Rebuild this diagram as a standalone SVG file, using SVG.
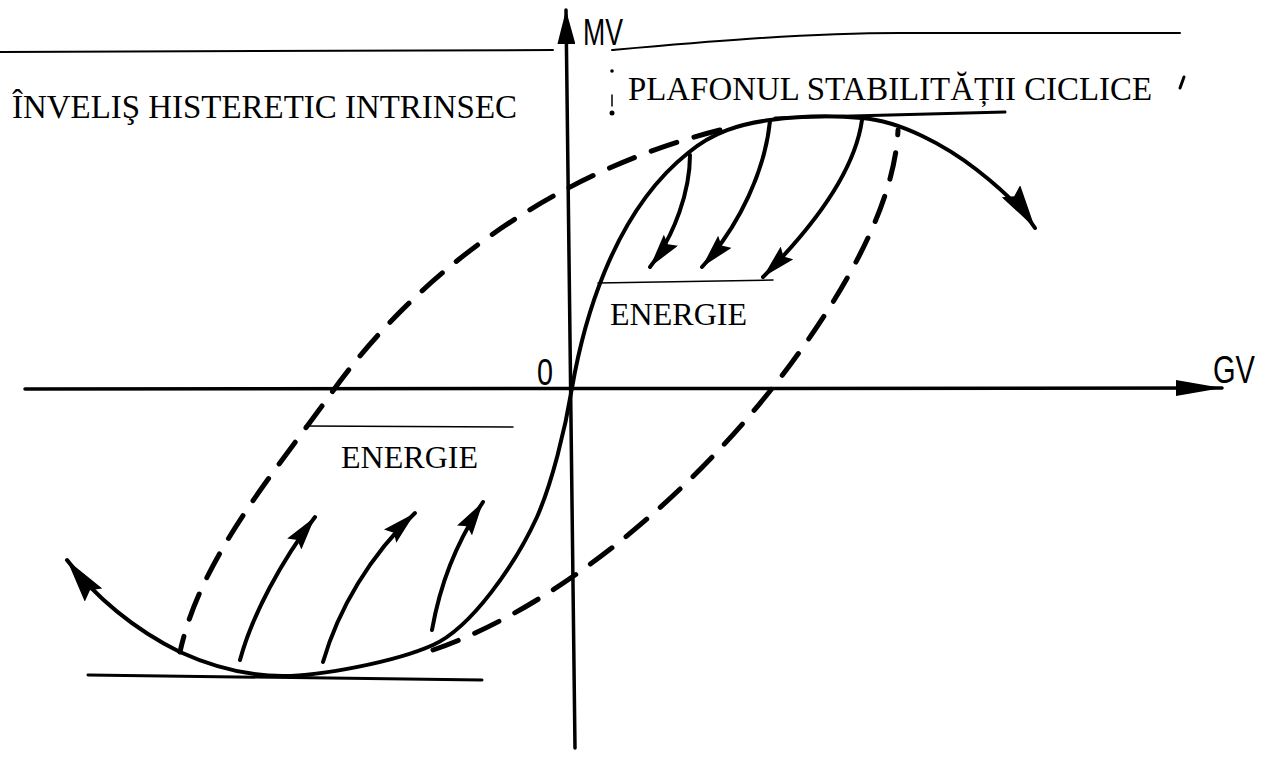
<svg xmlns="http://www.w3.org/2000/svg" width="1271" height="757" viewBox="0 0 1271 757">
<defs>
<style>
.ln{fill:none;stroke:#000;stroke-linecap:round;stroke-linejoin:round}
.thick{stroke-width:4}
.axis{stroke-width:3.5}
.thin{stroke-width:2}
.hair{stroke-width:1.5}
.dash{stroke-width:5;stroke-dasharray:27 18}
.serif{font-family:"Liberation Serif","Times New Roman",serif;fill:#000}
.sans{font-family:"Liberation Sans",Arial,sans-serif;fill:#000}
.mark{fill:#000}
</style>
<marker id="ahS" markerUnits="userSpaceOnUse" markerWidth="36" markerHeight="18" refX="34" refY="9" orient="auto"><path class="mark" d="M0,0 L34,9 L0,18 L5,9 Z"/></marker>
<marker id="ahL" markerUnits="userSpaceOnUse" markerWidth="46" markerHeight="22" refX="44" refY="11" orient="auto-start-reverse"><path class="mark" d="M0,0 L44,11 L0,22 L6,11 Z"/></marker>
<marker id="ahAV" markerUnits="userSpaceOnUse" markerWidth="36" markerHeight="18" refX="34" refY="9" orient="auto"><path class="mark" d="M0,0 L34,9 L0,18 Z"/></marker>
<marker id="ahAH" markerUnits="userSpaceOnUse" markerWidth="48" markerHeight="18" refX="46" refY="9" orient="auto"><path class="mark" d="M0,1 L46,9 L0,17 Z"/></marker>
</defs>
<rect width="1271" height="757" fill="#fff"/>

<g id="axes">
<line class="ln axis" x1="575" y1="748" x2="566" y2="10" marker-end="url(#ahAV)"/>
<line class="ln axis" x1="25" y1="389" x2="1222" y2="388" marker-end="url(#ahAH)"/>
</g>

<g id="guide-lines">
<path class="ln thin" d="M0,52 L553,50"/>
<path class="ln thin" d="M612,50 C690,43 800,33 900,33 L1180,33"/>
<path class="ln" stroke-width="3" d="M775,118 L1005,112"/>
<path class="ln" stroke-width="3" d="M88,675 L482,680"/>
<path class="ln hair" d="M598,283 L773,280"/>
<path class="ln hair" d="M305,426 L513,427"/>
</g>

<g id="connectors">
<path id="skeleton" class="ln thick" marker-start="url(#ahL)" marker-end="url(#ahL)" d="M67,560 C95,597 135,630 180,652 C215,668 250,676 283,676 C320,676 395,662 433,645 C471,628 515,565 537,517 C552,483 565,430 572,388 C582,330 610,215 688,153 C713,132 740,124 770,120 C800,116 830,115 862,118 C900,121 945,145 977,170 C995,184 1020,205 1035,228"/>
<path id="envelope-upper" class="ln dash" d="M720,130 C560,170 420,268 330,395 C270,478 200,560 180,652"/>
<path id="envelope-lower" class="ln dash" d="M433,650 C550,610 690,500 790,365 C850,284 895,200 898,130"/>
<path class="ln thick" marker-end="url(#ahS)" d="M690,155 C690,190 675,235 650,267"/>
<path class="ln thick" marker-end="url(#ahS)" d="M770,121 C765,170 740,225 702,267"/>
<path class="ln thick" marker-end="url(#ahS)" d="M862,120 C855,170 815,225 763,277"/>
<path class="ln thick" marker-end="url(#ahS)" d="M240,660 C252,615 282,560 315,517"/>
<path class="ln thick" marker-end="url(#ahS)" d="M323,662 C338,610 370,555 415,513"/>
<path class="ln thick" marker-end="url(#ahS)" d="M432,630 C440,585 455,545 483,502"/>
</g>

<g id="label-mv"><text class="sans" x="583" y="45" font-size="36" textLength="40" lengthAdjust="spacingAndGlyphs">MV</text></g>
<g id="label-gv"><text class="sans" x="1213" y="383" font-size="39" textLength="42" lengthAdjust="spacingAndGlyphs">GV</text></g>
<g id="label-origin"><text class="sans" x="537" y="385" font-size="36" textLength="16" lengthAdjust="spacingAndGlyphs">0</text></g>
<g id="label-invelis"><text class="serif" x="12" y="118" font-size="33" textLength="505" lengthAdjust="spacingAndGlyphs">ÎNVELIŞ HISTERETIC INTRINSEC</text></g>
<g id="label-plafon"><text class="serif" x="628" y="100" font-size="33" textLength="524" lengthAdjust="spacingAndGlyphs">PLAFONUL STABILITĂȚII CICLICE</text></g>
<g id="label-energie-upper"><text class="serif" x="610" y="325" font-size="32" textLength="137" lengthAdjust="spacingAndGlyphs">ENERGIE</text></g>
<g id="label-energie-lower"><text class="serif" x="341" y="468" font-size="32" textLength="137" lengthAdjust="spacingAndGlyphs">ENERGIE</text></g>

<g id="marks">
<circle class="mark" cx="612" cy="71" r="1.8"/>
<line class="ln" stroke-width="1.5" x1="612" y1="95" x2="612" y2="106"/>
<circle class="mark" cx="612" cy="113" r="2.5"/>
<path class="ln" stroke-width="3" d="M1184,77 L1180,88"/>
</g>
</svg>
